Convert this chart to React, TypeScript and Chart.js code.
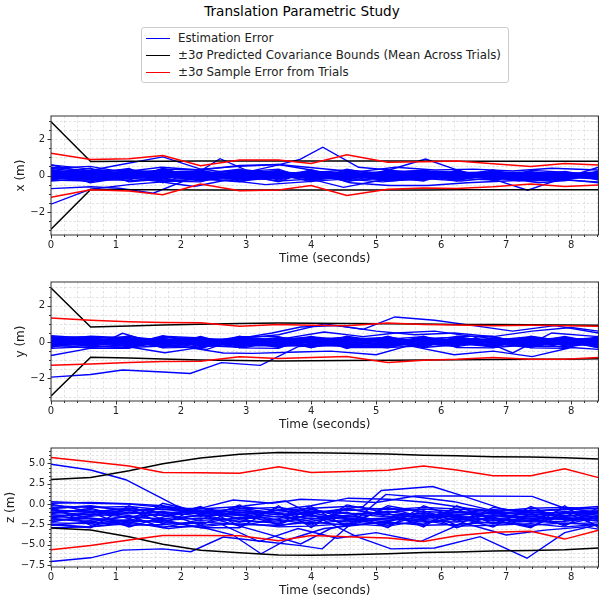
import React, { useEffect, useRef } from 'react';
import { Chart, registerables } from 'chart.js';
Chart.register(...registerables);

const FONT = '"DejaVu Sans", sans-serif';
const BLUE = '#0000ff';
const BLACK = '#000000';
const RED = '#ff0000';

// time stamps of bounds
const TIME = [0, 0.61, 1.2, 1.72, 2.3, 2.9, 3.5, 4.0, 4.55, 5.18, 5.73, 6.24, 6.8, 7.38, 7.9, 8.42];
const T_MAX = 8.42;
const X_MAJOR = [0, 1, 2, 3, 4, 5, 6, 7, 8];
const XY_MAJOR = [-2, 0, 2];
const Z_MAJOR = [-7.5, -5, -2.5, 0, 2.5, 5];

// ---- x (m) ----
const X_BLACK_UP = [2.95, 0.77, 0.78, 0.78, 0.79, 0.79, 0.79, 0.79, 0.79, 0.79, 0.79, 0.78, 0.78, 0.78, 0.78, 0.78];
const X_BLACK_LO = [-2.95, -0.77, -0.78, -0.78, -0.79, -0.79, -0.79, -0.79, -0.79, -0.79, -0.79, -0.78, -0.78, -0.78, -0.78, -0.78];
const X_RED_UP = [1.22, 0.88, 0.92, 1.09, 0.53, 0.85, 0.85, 0.66, 1.14, 0.72, 0.76, 0.79, 0.65, 0.5, 0.66, 0.57];
const X_RED_LO = [-1.19, -0.78, -0.85, -1.05, -0.47, -0.84, -0.8, -0.55, -1.1, -0.76, -0.68, -0.71, -0.62, -0.47, -0.6, -0.52];
const X_BAND = [
  [0.58, 0.35, 0.2, 0.12, 0.18, 0.05, 0.1, 0.02, 0.12, 0.06, 0.1, 0.0, 0.05, 0.12, 0.04, 0.1],
  [0.45, 0.25, 0.3, 0.15, -0.05, 0.1, 0.2, 0.1, -0.05, 0.15, 0.05, 0.12, 0.1, 0.0, 0.08, 0.05],
  [0.3, 0.1, -0.15, 0.25, 0.1, -0.1, 0.05, 0.25, 0.1, 0.0, -0.1, 0.08, 0.15, 0.05, -0.05, 0.15],
  [0.2, 0.22, 0.05, -0.1, 0.12, 0.25, -0.05, 0.1, 0.2, -0.05, 0.12, 0.2, -0.02, 0.1, 0.15, 0.02],
  [0.12, -0.05, 0.15, 0.3, 0.0, 0.12, 0.28, -0.1, 0.05, 0.22, 0.15, -0.05, 0.1, 0.18, 0.1, 0.2],
  [0.05, 0.15, 0.32, 0.05, -0.15, 0.2, 0.0, 0.15, 0.3, 0.1, -0.08, 0.15, 0.2, 0.05, 0.2, -0.05],
  [0.0, -0.12, 0.1, 0.2, 0.25, -0.05, 0.15, 0.05, -0.1, 0.25, 0.2, 0.05, -0.1, 0.15, 0.0, 0.12],
  [-0.05, 0.08, -0.2, -0.05, 0.1, 0.3, 0.12, -0.15, 0.15, -0.02, 0.25, 0.18, 0.08, -0.05, 0.12, 0.08],
  [-0.1, 0.0, 0.05, -0.25, -0.1, 0.05, -0.2, 0.2, 0.0, -0.15, 0.05, -0.12, 0.22, 0.1, -0.1, -0.02],
  [-0.15, -0.2, -0.05, 0.05, -0.25, -0.15, 0.05, -0.05, -0.2, 0.05, -0.15, 0.1, -0.05, -0.15, 0.05, -0.1],
  [-0.2, 0.05, -0.3, -0.15, 0.05, -0.25, -0.12, 0.0, 0.1, -0.1, 0.02, -0.2, 0.0, 0.05, -0.15, 0.0],
  [-0.25, -0.3, -0.1, 0.1, -0.05, 0.0, -0.3, -0.2, -0.12, 0.0, -0.22, -0.05, -0.15, -0.2, -0.05, -0.12],
  [-0.3, -0.15, 0.0, -0.3, -0.2, -0.1, 0.0, -0.28, -0.05, -0.25, -0.1, -0.15, -0.25, 0.0, -0.2, -0.05],
  [0.1, 0.4, -0.35, -0.2, 0.2, -0.3, -0.1, 0.05, -0.3, -0.12, 0.0, -0.25, 0.05, -0.1, -0.08, -0.2],
  [-0.05, -0.35, 0.2, 0.0, -0.3, 0.15, 0.22, -0.05, 0.08, -0.3, -0.18, 0.02, -0.1, -0.25, 0.1, -0.15],
  [0.25, 0.05, -0.05, 0.35, 0.3, -0.2, -0.15, 0.32, -0.15, 0.12, 0.3, -0.1, 0.12, 0.2, -0.12, 0.05],
  [0.38, 0.15, 0.1, -0.3, -0.35, 0.2, 0.35, -0.25, 0.25, -0.2, -0.25, 0.25, -0.2, -0.12, 0.22, -0.08],
  [-0.28, 0.28, 0.25, 0.18, 0.08, 0.35, -0.25, 0.15, -0.25, 0.3, 0.08, -0.3, 0.25, -0.3, -0.22, 0.18],
  [0.15, -0.25, -0.25, 0.4, -0.2, -0.35, 0.1, -0.35, 0.35, -0.08, -0.3, 0.3, -0.28, 0.28, 0.18, -0.25],
  [-0.12, 0.1, 0.38, -0.4, 0.35, 0.1, -0.35, 0.28, -0.35, 0.18, 0.28, -0.02, 0.3, -0.18, -0.28, 0.25],
  [0.18, 0.12, -0.08, 0.06, 0.14, -0.12, 0.08, 0.16, -0.06, 0.1, -0.14, 0.06, 0.16, -0.04, 0.12, -0.1],
  [-0.18, -0.06, 0.12, -0.14, 0.02, 0.16, -0.1, -0.02, 0.14, -0.12, 0.1, -0.16, 0.02, 0.14, -0.06, 0.08],
  [0.08, -0.16, 0.02, 0.12, -0.12, -0.02, 0.18, -0.12, 0.04, 0.16, -0.04, 0.12, -0.14, 0.08, 0.16, -0.14],
  [-0.08, 0.18, 0.14, -0.02, 0.2, 0.08, -0.16, 0.06, -0.16, -0.06, 0.16, -0.08, 0.12, -0.12, -0.16, 0.14],
  [0.22, -0.1, -0.16, 0.2, -0.08, 0.18, 0.02, -0.18, 0.18, 0.02, -0.2, 0.14, -0.06, 0.2, 0.02, -0.04],
  [-0.22, 0.02, 0.06, -0.18, 0.16, -0.06, -0.04, 0.2, -0.02, -0.18, 0.06, -0.02, 0.18, -0.08, 0.08, 0.16],
  [0.02, -0.22, -0.12, 0.08, -0.16, 0.1, 0.2, -0.08, 0.1, 0.2, -0.08, 0.2, -0.18, 0.02, -0.18, 0.02],
  [0.14, 0.06, 0.18, -0.1, 0.06, -0.18, -0.08, 0.1, -0.1, -0.04, 0.18, -0.18, 0.04, -0.18, 0.2, -0.18],
];
const X_OUT_T = [
  [0, 0.61, 1.2, 1.72, 2.3, 2.9, 3.4, 3.83, 4.18, 4.73, 5.2, 5.76, 6.24, 6.8, 7.33, 7.83, 8.42],
  [0, 0.61, 1.05, 1.57, 2.05, 2.6, 3.0, 3.5, 4.0, 4.5, 5.0, 5.5, 6.0, 6.6, 7.2, 7.8, 8.42],
  [0, 0.5, 1.0, 1.72, 2.3, 2.9, 3.5, 4.0, 4.6, 5.2, 5.8, 6.4, 7.0, 7.6, 8.42],
  [0, 0.6, 1.15, 1.6, 2.2, 2.7, 3.3, 3.9, 4.5, 5.1, 5.7, 6.3, 6.9, 7.5, 8.0, 8.42],
  [0, 0.6, 1.1, 1.7, 2.3, 2.9, 3.5, 4.1, 4.7, 5.3, 5.9, 6.5, 7.1, 7.7, 8.42],
];
const X_OUT_V = [
  [-1.57, -0.75, -0.5, -0.35, -0.2, 0.1, 0.5, 0.88, 1.55, 0.45, 0.3, 0.9, 0.31, -0.2, -0.81, -0.2, 0.45],
  [-0.72, -0.62, -0.7, -0.97, -0.3, 0.92, 0.3, 0.1, -0.2, -0.65, -0.3, -0.1, 0.2, 0.0, -0.3, -0.1, 0.1],
  [0.58, 0.2, 0.55, 1.02, 0.35, 0.5, 0.6, 0.3, -0.4, -0.55, -0.55, -0.4, -0.3, -0.2, -0.35],
  [0.35, -0.4, -0.1, -0.3, -0.6, -0.25, -0.5, -0.35, -0.2, -0.35, -0.15, -0.3, -0.1, -0.4, -0.25, -0.4],
  [0.4, 0.5, 0.2, 0.45, 0.3, 0.55, 0.6, 0.4, 0.2, 0.45, 0.3, 0.35, 0.25, 0.4, 0.3],
];

// ---- y (m) ----
const Y_BLACK_UP = [2.97, 0.83, 0.88, 0.93, 0.98, 1.02, 1.04, 1.03, 1.02, 1.0, 0.99, 0.97, 0.96, 0.95, 0.94, 0.92];
const Y_BLACK_LO = [-2.97, -0.83, -0.88, -0.93, -0.98, -1.02, -1.04, -1.03, -1.02, -1.0, -0.99, -0.97, -0.96, -0.95, -0.94, -0.92];
const Y_RED_UP = [1.32, 1.2, 1.12, 1.07, 1.06, 0.87, 0.97, 0.92, 0.9, 1.05, 0.97, 0.93, 0.9, 0.92, 0.9, 0.87];
const Y_RED_LO = [-1.28, -1.2, -1.12, -1.07, -1.06, -0.81, -0.9, -0.85, -0.8, -1.12, -1.0, -0.95, -0.85, -0.95, -0.95, -0.85];
const Y_BAND = [
  [0.35, 0.2, 0.3, 0.1, 0.05, 0.15, 0.1, 0.2, 0.05, 0.1, 0.15, 0.05, 0.2, 0.1, 0.15, 0.1],
  [0.3, 0.1, 0.05, 0.25, 0.15, -0.05, 0.2, 0.05, 0.15, 0.25, 0.0, 0.15, 0.05, 0.25, 0.05, 0.2],
  [0.25, 0.3, 0.15, -0.05, 0.2, 0.1, -0.1, 0.15, 0.25, -0.05, 0.2, 0.25, -0.05, 0.1, 0.25, 0.0],
  [0.2, -0.05, 0.2, 0.15, -0.1, 0.25, 0.05, -0.05, 0.1, 0.15, 0.3, -0.05, 0.15, 0.0, 0.1, 0.25],
  [0.15, 0.15, -0.1, 0.3, 0.1, 0.0, 0.25, 0.1, -0.1, 0.2, 0.05, 0.1, 0.3, -0.1, 0.2, 0.15],
  [0.1, 0.05, 0.1, 0.0, 0.25, -0.15, 0.15, 0.25, 0.0, -0.1, 0.1, 0.3, 0.0, 0.2, -0.05, 0.05],
  [0.05, -0.15, 0.25, -0.15, 0.0, 0.2, -0.05, 0.0, 0.3, 0.05, -0.15, 0.0, 0.1, 0.3, 0.0, -0.1],
  [0.0, 0.25, -0.05, 0.05, -0.2, 0.05, 0.0, -0.2, -0.05, 0.3, -0.05, -0.2, 0.25, -0.05, 0.3, -0.05],
  [-0.05, 0.0, -0.2, -0.1, 0.15, -0.2, -0.2, 0.05, -0.2, -0.15, 0.25, 0.05, -0.15, 0.05, -0.15, 0.3],
  [-0.1, -0.2, 0.0, -0.25, -0.05, 0.3, 0.3, -0.1, 0.2, 0.0, -0.25, 0.2, -0.05, -0.2, -0.1, -0.2],
  [-0.15, 0.1, -0.25, 0.2, -0.25, -0.1, -0.15, -0.25, -0.15, -0.25, 0.0, -0.1, -0.25, 0.15, 0.05, -0.15],
  [-0.2, -0.1, 0.35, -0.2, 0.3, -0.25, 0.1, 0.3, 0.1, 0.1, -0.1, -0.25, 0.05, -0.25, -0.25, 0.1],
  [-0.25, -0.3, -0.15, 0.35, -0.15, 0.15, -0.25, -0.15, -0.25, -0.2, 0.15, 0.1, -0.3, -0.15, 0.2, -0.25],
  [-0.3, 0.3, 0.1, -0.3, 0.05, -0.3, 0.2, -0.3, 0.05, 0.2, -0.3, -0.15, 0.2, 0.0, -0.3, 0.0],
  [-0.35, -0.25, -0.3, 0.0, -0.3, 0.05, -0.3, 0.2, -0.3, -0.3, -0.2, 0.25, -0.1, -0.3, 0.15, -0.3],
  [0.12, 0.32, 0.22, -0.32, -0.28, 0.28, 0.12, -0.32, 0.32, -0.12, 0.32, -0.3, -0.32, 0.32, 0.05, -0.32],
  [-0.12, -0.35, -0.35, 0.32, 0.22, -0.32, -0.35, 0.32, -0.35, 0.32, -0.32, 0.32, 0.32, -0.32, -0.35, 0.32],
  [0.28, 0.02, 0.12, -0.12, -0.35, 0.32, -0.12, 0.02, -0.12, -0.32, 0.12, -0.02, -0.22, 0.22, -0.2, 0.22],
  [0.16, -0.08, 0.12, 0.04, -0.14, 0.1, 0.16, -0.06, 0.12, 0.02, -0.12, 0.16, 0.06, -0.14, 0.1, 0.04],
  [-0.16, 0.1, -0.06, 0.16, 0.08, -0.16, 0.04, 0.12, -0.1, 0.18, 0.08, -0.08, -0.16, 0.12, -0.02, -0.14],
  [0.06, 0.18, -0.16, -0.08, 0.18, 0.04, -0.14, -0.16, 0.16, -0.06, -0.18, 0.04, 0.14, 0.02, -0.16, 0.16],
  [-0.06, -0.18, 0.06, 0.18, -0.04, -0.08, 0.18, 0.14, -0.04, -0.16, 0.14, -0.18, 0.08, -0.06, 0.18, -0.06],
  [0.22, 0.06, -0.02, -0.16, 0.12, 0.18, -0.02, -0.12, 0.2, 0.12, 0.02, 0.1, -0.1, 0.18, 0.08, -0.18],
  [-0.22, -0.04, 0.18, 0.08, -0.18, -0.02, 0.08, 0.18, -0.18, -0.02, 0.2, -0.12, 0.18, -0.18, -0.08, 0.1],
  [0.0, 0.14, -0.12, -0.02, 0.04, 0.14, -0.2, 0.04, 0.02, -0.2, -0.06, 0.18, -0.02, 0.06, 0.02, 0.0],
  [0.1, -0.14, 0.0, 0.12, -0.1, -0.12, 0.12, -0.02, -0.14, 0.08, 0.04, -0.02, 0.02, -0.1, -0.12, 0.12],
];
const Y_OUT_T = [
  [0, 0.61, 1.1, 1.72, 2.14, 2.62, 3.22, 3.8, 4.4, 5.0, 5.55, 6.1, 6.7, 7.3, 7.9, 8.42],
  [0, 0.6, 1.1, 1.75, 2.3, 2.9, 3.5, 4.2, 4.8, 5.29, 5.9, 6.5, 7.1, 7.75, 8.42],
  [0, 0.6, 1.1, 1.75, 2.2, 2.65, 3.1, 3.8, 4.3, 5.0, 5.5, 6.2, 6.8, 7.4, 8.0, 8.42],
  [0, 0.6, 1.2, 1.8, 2.4, 2.9, 3.4, 3.84, 4.4, 5.0, 5.6, 6.2, 6.8, 7.4, 8.0, 8.42],
  [0, 0.6, 1.2, 1.8, 2.4, 3.0, 3.6, 4.2, 4.8, 5.3, 5.9, 6.5, 7.1, 7.7, 8.42],
];
const Y_OUT_V = [
  [-1.93, -1.78, -1.54, -1.65, -1.73, -1.13, -1.28, -0.25, -0.1, 0.05, -0.2, 0.1, 0.0, -0.15, 0.05, -0.1],
  [-0.74, -0.35, 0.48, -0.2, -0.1, 0.2, 0.4, 1.0, 0.7, 1.38, 1.2, 0.9, 0.6, 0.9, 0.5],
  [0.2, -0.1, -0.2, -0.59, -0.35, -0.6, -0.62, -0.55, -0.5, -0.7, -0.2, -0.7, -0.5, -0.8, -0.3, -0.4],
  [0.1, -0.2, -0.3, -0.2, -0.4, 0.2, 0.5, 0.83, 0.9, 0.6, 0.4, 0.5, 0.3, 0.6, 0.8, 0.6],
  [-0.1, 0.1, 0.2, 0.0, -0.2, -0.3, 0.2, 0.55, 0.3, 0.5, 0.6, 0.3, -0.6, 0.5, 0.3],
];

// ---- z (m) ----
const Z_BLACK_UP = [3.03, 3.26, 4.1, 4.96, 5.66, 6.12, 6.36, 6.33, 6.25, 6.15, 6.0, 5.95, 5.82, 5.78, 5.7, 5.54];
const Z_BLACK_LO = [-2.95, -3.19, -4.0, -4.93, -5.67, -5.98, -6.25, -6.3, -6.22, -6.1, -5.95, -5.88, -5.75, -5.7, -5.62, -5.4];
const Z_RED_UP = [5.74, 5.2, 4.7, 3.9, 3.85, 3.8, 4.6, 3.9, 4.0, 4.15, 4.7, 4.2, 3.5, 3.5, 4.35, 3.26];
const Z_RED_LO = [-5.6, -5.1, -4.4, -3.85, -3.85, -3.9, -4.5, -3.85, -4.0, -4.15, -4.6, -3.9, -3.45, -3.35, -4.3, -3.2];
const Z_BAND = [
  [0.3, 0.1, 0.0, -0.4, -0.6, -0.3, -0.8, -0.5, -0.3, -0.7, -0.4, -0.6, -0.9, -0.5, -0.4, -0.6],
  [0.1, 0.2, 0.05, -0.2, -0.9, -0.6, -0.4, -1.0, -0.8, -0.5, -0.9, -1.1, -0.7, -0.8, -0.6, -0.3],
  [-0.2, -0.4, -0.3, -0.7, -0.5, -1.1, -1.0, -0.7, -1.2, -1.0, -0.6, -0.9, -1.2, -1.0, -1.1, -0.9],
  [-0.5, -0.2, -0.8, -0.6, -1.2, -0.8, -1.3, -1.2, -0.6, -1.3, -1.2, -1.4, -1.0, -1.3, -0.9, -1.2],
  [-0.8, -1.0, -0.5, -1.1, -0.8, -1.4, -0.7, -1.5, -1.4, -0.9, -1.5, -1.0, -1.5, -1.2, -1.4, -1.5],
  [-1.0, -0.7, -1.2, -0.9, -1.5, -1.0, -1.6, -0.9, -1.1, -1.6, -1.1, -1.7, -1.3, -1.6, -1.2, -1.0],
  [-1.3, -1.5, -1.0, -1.4, -1.1, -1.7, -1.2, -1.8, -1.6, -1.2, -1.8, -1.3, -1.1, -1.8, -1.7, -1.8],
  [-1.5, -1.2, -1.6, -1.8, -1.4, -1.3, -1.9, -1.4, -1.9, -1.7, -1.4, -1.9, -1.8, -1.5, -1.9, -1.4],
  [-1.8, -2.0, -1.5, -1.3, -2.0, -1.8, -1.5, -2.1, -1.5, -2.0, -1.6, -1.5, -2.0, -1.9, -1.6, -2.1],
  [-2.0, -1.7, -2.2, -2.0, -1.7, -2.1, -2.2, -1.7, -2.2, -1.8, -2.1, -2.2, -1.7, -2.2, -2.1, -1.7],
  [-2.3, -2.4, -1.9, -2.3, -2.4, -1.6, -2.0, -2.4, -2.0, -2.4, -2.3, -1.8, -2.4, -2.0, -2.4, -2.3],
  [-2.6, -2.2, -2.6, -2.5, -2.2, -2.5, -2.6, -2.2, -2.6, -2.2, -2.6, -2.5, -2.2, -2.6, -2.3, -2.6],
  [-2.9, -2.8, -2.4, -2.7, -2.8, -2.3, -2.8, -2.7, -2.4, -2.7, -2.0, -2.7, -2.6, -2.4, -2.8, -2.5],
  [-1.2, -0.5, -1.8, -0.3, -1.3, -2.2, -0.4, -1.3, -2.5, -0.4, -1.7, -0.6, -2.4, -0.7, -1.5, -0.9],
  [-2.2, -1.4, -0.6, -2.4, -0.4, -1.9, -2.4, -0.6, -1.7, -2.2, -0.8, -2.1, -0.9, -2.2, -0.5, -2.0],
  [-0.3, -2.6, -2.0, -1.0, -2.6, -0.5, -1.1, -2.6, -0.5, -1.5, -2.5, -0.9, -1.6, -2.8, -1.0, -2.7],
  [-1.7, -1.0, -2.8, -1.6, -0.3, -2.7, -1.8, -0.3, -2.8, -0.2, -1.0, -2.6, -0.4, -1.1, -2.7, -0.4],
  [0.0, -0.9, -1.4, -2.9, -1.9, -0.1, -2.7, -1.9, -1.0, -2.9, -0.2, -1.6, -2.8, -0.3, -2.0, -1.1],
  [-2.5, -2.9, -0.2, -1.9, -2.9, -2.9, -0.2, -2.9, -0.1, -1.1, -2.8, -0.2, -1.9, -2.9, -0.2, -2.9],
  [-0.6, -1.8, -2.5, 0.1, -1.0, -1.2, -2.5, -1.1, -1.8, -2.6, -1.3, -2.9, -1.4, -1.8, -2.5, -1.6],
];
const Z_OUT_T = [
  [0, 0.61, 1.15, 1.9, 2.5, 3.3, 3.84, 4.3, 4.9, 5.5, 6.1, 6.7, 7.3, 7.9, 8.42],
  [0, 0.61, 1.1, 1.72, 2.15, 2.65, 3.27, 3.84, 4.17, 4.6, 5.15, 5.6, 6.2, 6.8, 7.4, 8.0, 8.42],
  [0, 0.6, 1.2, 1.8, 2.4, 2.8, 3.23, 3.6, 4.2, 4.8, 5.4, 6.0, 6.6, 7.2, 7.8, 8.42],
  [0, 0.6, 1.2, 1.8, 2.4, 3.0, 3.6, 4.2, 4.8, 5.08, 5.87, 6.38, 6.9, 7.5, 8.0, 8.42],
  [0, 0.6, 1.2, 1.8, 2.4, 3.0, 3.6, 4.2, 4.7, 5.23, 5.9, 6.6, 7.32, 7.9, 8.42],
  [0, 0.6, 1.2, 1.8, 2.4, 2.8, 3.4, 3.84, 4.5, 5.0, 5.6, 6.3, 7.4, 7.9, 8.42],
  [0, 0.6, 1.2, 1.8, 2.4, 3.0, 3.6, 4.0, 4.57, 5.2, 5.8, 6.4, 7.0, 7.6, 8.42],
  [0, 0.6, 1.2, 1.8, 2.6, 3.2, 3.8, 4.4, 5.0, 5.68, 6.34, 7.0, 7.6, 8.2, 8.42],
];
const Z_OUT_V = [
  [4.9, 4.2, 3.0, -0.1, -1.8, -3.6, -4.9, -3.0, -2.0, -1.5, -1.2, -2.0, -1.8, -1.5, -1.2],
  [-7.05, -6.6, -5.65, -5.5, -5.85, -4.05, -4.6, -5.1, -5.5, -2.5, 1.2, 0.9, 0.3, -0.8, -1.5, -2.0, -1.5],
  [-1.5, -1.8, -2.0, -2.2, -3.0, -3.8, -6.1, -4.5, -3.0, -2.5, -1.8, -2.0, -1.5, -2.2, -1.8, -2.0],
  [-0.5, -0.3, -0.8, -0.6, -1.0, -0.8, -1.2, -0.9, -0.3, 1.67, 2.17, 0.9, -0.5, -1.5, -1.0, -0.8],
  [-1.8, -2.2, -1.5, -2.0, -1.2, -0.2, 0.4, -2.0, -4.0, -5.5, -5.4, -4.0, -6.65, -3.5, -2.5],
  [-1.0, -1.3, -0.8, -1.5, -0.3, 0.5, 0.1, 0.6, 0.4, 0.2, 1.0, 1.0, 0.95, -0.5, -1.0],
  [-0.7, -1.0, -0.5, -1.2, -0.8, -1.5, -0.6, -0.2, 0.73, 0.6, 0.2, -0.5, -1.0, -0.8, -0.5],
  [-2.5, -2.8, -2.2, -3.0, -2.4, -4.6, -3.0, -4.2, -3.5, -4.6, -2.3, -3.8, -3.2, -2.8, -3.07],
];

const LEGEND_ITEMS = [
  { label: 'Estimation Error', color: BLUE },
  { label: '\u00b13\u03c3 Predicted Covariance Bounds (Mean Across Trials)', color: BLACK },
  { label: '\u00b13\u03c3 Sample Error from Trials', color: RED },
];

const pts = (ts: number[], vs: number[]) => vs.map((v, i) => ({ x: ts[i], y: v }));

function range(a: number, b: number, step: number) {
  const out: number[] = [];
  const n = Math.round((b - a) / step);
  for (let i = 0; i <= n; i++) out.push(+(a + i * step).toFixed(4));
  return out;
}

const mplPlugin = {
  id: 'mplFrame',
  beforeDatasetsDraw(chart: any, _args: any, opts: any) {
    const { ctx, chartArea: a, scales } = chart;
    const x = scales.x, y = scales.y;
    ctx.save();
    ctx.strokeStyle = '#dcdcdc';
    ctx.lineWidth = 0.8;
    ctx.setLineDash([2.5, 2]);
    for (const v of opts.xMinor) {
      const px = Math.round(x.getPixelForValue(v)) + 0.5;
      ctx.beginPath(); ctx.moveTo(px, a.top); ctx.lineTo(px, a.bottom); ctx.stroke();
    }
    for (const v of opts.yMinor) {
      const py = Math.round(y.getPixelForValue(v)) + 0.5;
      ctx.beginPath(); ctx.moveTo(a.left, py); ctx.lineTo(a.right, py); ctx.stroke();
    }
    ctx.restore();
  },
  afterDatasetsDraw(chart: any, _args: any, opts: any) {
    const { ctx, chartArea: a, scales } = chart;
    const x = scales.x, y = scales.y;
    ctx.save();
    ctx.strokeStyle = '#333333';
    ctx.lineWidth = 1;
    ctx.setLineDash([]);
    ctx.strokeRect(a.left, a.top, a.right - a.left, a.bottom - a.top);
    const tick = (x1: number, y1: number, x2: number, y2: number) => {
      ctx.beginPath(); ctx.moveTo(x1, y1); ctx.lineTo(x2, y2); ctx.stroke();
    };
    for (const v of opts.xMinor) {
      const px = Math.round(x.getPixelForValue(v)) + 0.5;
      const major = opts.xMajor.includes(v);
      tick(px, a.bottom, px, a.bottom + (major ? 3.5 : 2));
    }
    for (const v of opts.yMinor) {
      const py = Math.round(y.getPixelForValue(v)) + 0.5;
      const major = opts.yMajor.includes(v);
      tick(a.left, py, a.left - (major ? 3.5 : 2), py);
    }
    ctx.restore();
  },
};

const PAD_T = 5;
const AX_H = 126;
const XAX_H = 31;
const CANVAS_H = PAD_T + AX_H + XAX_H;

const fmtMinus = (s: string) => s.replace('-', '\u2212');

interface PanelProps {
  top: number;
  band: number[][];
  outT: number[][];
  outV: number[][];
  blackUp: number[];
  blackLo: number[];
  redUp: number[];
  redLo: number[];
  yMin: number;
  yMax: number;
  yMajor: number[];
  yMinor: number[];
  yLabel: string;
  yTitlePad: number;
  yDecimals: number;
}

function Panel(p: PanelProps) {
  const ref = useRef<HTMLCanvasElement>(null);
  useEffect(() => {
    const blueStyle = { borderColor: BLUE, borderWidth: 1.4, pointRadius: 0, fill: false, tension: 0, order: 2 };
    const datasets: any[] = [];
    p.band.forEach((vs) => datasets.push({ ...blueStyle, data: pts(TIME, vs) }));
    p.outV.forEach((vs, i) => datasets.push({ ...blueStyle, data: pts(p.outT[i], vs) }));
    datasets.push({ borderColor: BLACK, borderWidth: 1.5, pointRadius: 0, order: 1, data: pts(TIME, p.blackUp) });
    datasets.push({ borderColor: BLACK, borderWidth: 1.5, pointRadius: 0, order: 1, data: pts(TIME, p.blackLo) });
    datasets.push({ borderColor: RED, borderWidth: 1.5, pointRadius: 0, order: 0, data: pts(TIME, p.redUp) });
    datasets.push({ borderColor: RED, borderWidth: 1.5, pointRadius: 0, order: 0, data: pts(TIME, p.redLo) });

    const chart = new Chart(ref.current as HTMLCanvasElement, {
      type: 'line',
      data: { datasets },
      plugins: [mplPlugin as any],
      options: {
        animation: false,
        responsive: false,
        maintainAspectRatio: false,
        events: [],
        layout: { padding: { top: PAD_T, right: 5.5, bottom: 0, left: 0 } },
        plugins: {
          legend: { display: false },
          tooltip: { enabled: false },
          mplFrame: {
            xMinor: range(0, 8.4, 0.2),
            xMajor: X_MAJOR,
            yMinor: p.yMinor,
            yMajor: p.yMajor,
          },
        } as any,
        scales: {
          x: {
            type: 'linear',
            min: 0,
            max: T_MAX,
            afterFit: (s: any) => { s.height = XAX_H; },
            afterBuildTicks: (s: any) => { s.ticks = X_MAJOR.map((v) => ({ value: v })); },
            grid: { display: false, drawTicks: false },
            border: { display: false },
            ticks: {
              padding: 4,
              autoSkip: false,
              maxRotation: 0,
              color: '#222',
              font: { family: FONT, size: 10 },
              callback: (v: any) => String(v),
            },
            title: {
              display: true,
              text: 'Time (seconds)',
              color: '#222',
              font: { family: FONT, size: 12 },
              padding: { top: 0, bottom: 0 },
            },
          },
          y: {
            type: 'linear',
            min: p.yMin,
            max: p.yMax,
            afterFit: (s: any) => { s.width = 51; },
            afterBuildTicks: (s: any) => { s.ticks = p.yMajor.map((v) => ({ value: v })); },
            grid: { display: false, drawTicks: false },
            border: { display: false },
            ticks: {
              padding: 6,
              autoSkip: false,
              color: '#222',
              font: { family: FONT, size: 10 },
              callback: (v: any) => fmtMinus(Number(v).toFixed(p.yDecimals)),
            },
            title: {
              display: true,
              text: p.yLabel,
              color: '#222',
              font: { family: FONT, size: 12 },
              padding: { top: p.yTitlePad, bottom: 0 },
            },
          },
        },
      } as any,
    });
    return () => chart.destroy();
  }, []);
  return (
    <canvas
      ref={ref}
      width={604}
      height={CANVAS_H}
      style={{ position: 'absolute', left: 0, top: p.top - PAD_T, width: 604, height: CANVAS_H }}
    />
  );
}

export default function App() {
  return (
    <div style={{ position: 'absolute', left: 0, top: 0, width: 604, height: 598, background: '#fff', overflow: 'hidden', fontFamily: FONT }}>
      <div style={{ position: 'absolute', left: 0, top: 3, width: 604, textAlign: 'center', fontSize: 13.6, lineHeight: '17px', color: '#000' }}>
        Translation Parametric Study
      </div>
      <div
        style={{
          position: 'absolute', left: 141, top: 27, width: 366, height: 54,
          border: '1px solid #cccccc', borderRadius: 3, background: 'rgba(255,255,255,0.8)',
        }}
      >
        {LEGEND_ITEMS.map((it, i) => (
          <div key={i} style={{ position: 'absolute', left: 0, top: 1.5 + i * 17.3, height: 17, width: 366 }}>
            <div style={{ position: 'absolute', left: 4, top: 8, width: 24, height: 0, borderTop: `1.5px solid ${it.color}` }} />
            <div style={{ position: 'absolute', left: 36, top: 0, fontSize: 11.8, lineHeight: '17px', color: '#222', whiteSpace: 'nowrap' }}>
              {it.label}
            </div>
          </div>
        ))}
      </div>
      <Panel
        top={109}
        band={X_BAND} outT={X_OUT_T} outV={X_OUT_V}
        blackUp={X_BLACK_UP} blackLo={X_BLACK_LO} redUp={X_RED_UP} redLo={X_RED_LO}
        yMin={-3.26} yMax={3.26} yMajor={XY_MAJOR} yMinor={range(-3, 3, 0.5)}
        yLabel="x (m)" yTitlePad={13.3} yDecimals={0}
      />
      <Panel
        top={275}
        band={Y_BAND} outT={Y_OUT_T} outV={Y_OUT_V}
        blackUp={Y_BLACK_UP} blackLo={Y_BLACK_LO} redUp={Y_RED_UP} redLo={Y_RED_LO}
        yMin={-3.24} yMax={3.3} yMajor={XY_MAJOR} yMinor={range(-3, 3, 0.5)}
        yLabel="y (m)" yTitlePad={13.3} yDecimals={0}
      />
      <Panel
        top={441}
        band={Z_BAND} outT={Z_OUT_T} outV={Z_OUT_V}
        blackUp={Z_BLACK_UP} blackLo={Z_BLACK_LO} redUp={Z_RED_UP} redLo={Z_RED_LO}
        yMin={-7.73} yMax={6.9} yMajor={Z_MAJOR} yMinor={range(-7.5, 6.5, 0.5)}
        yLabel="z (m)" yTitlePad={3.8} yDecimals={1}
      />
    </div>
  );
}
